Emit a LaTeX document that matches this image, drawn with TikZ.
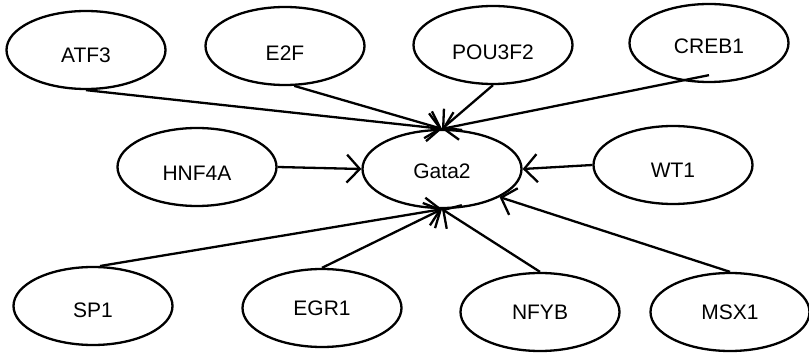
\documentclass[tikz,border=0pt]{standalone}
\usepackage{fontspec}
\setmainfont{Liberation Sans}
\usetikzlibrary{shapes.geometric,arrows.meta}
\newcommand\lowtext[2]{\raisebox{-#1pt}[\height][\depth]{#2}}
\begin{document}
\begin{tikzpicture}[x=1pt,y=-1pt,
  gene/.style={ellipse,draw=black,line width=2.3pt,minimum width=159pt,minimum height=78pt,inner sep=0pt,font=\fontsize{21}{24}\selectfont},
  reg/.style={line width=2.3pt,-{Straight Barb[length=13pt,width=28pt]}}]
\useasboundingbox (0,0) rectangle (809,355);
\node[gene] (atf3) at (86,50) {\lowtext{5}{ATF3}};
\node[gene] (e2f) at (285,46) {\lowtext{7}{E2F}};
\node[gene] (pou) at (493,45) {\lowtext{7}{POU3F2}};
\node[gene] (creb1) at (709,43) {\lowtext{3}{CREB1}};
\node[gene] (hnf4a) at (197,167) {\lowtext{6}{HNF4A}};
\node[gene] (gata2) at (442,169) {\lowtext{2}{Gata2}};
\node[gene] (wt1) at (673,165) {\lowtext{5}{WT1}};
\node[gene] (sp1) at (93,306) {\lowtext{4}{SP1}};
\node[gene] (egr1) at (322,308) {EGR1};
\node[gene] (nfyb) at (540,312) {NFYB};
\node[gene] (msx1) at (730,312) {MSX1};
\draw[reg] (atf3.south) -- (gata2.north);
\draw[reg] (e2f.-77) -- (gata2.north);
\draw[reg] (pou.south) -- (gata2.north);
\draw[reg] ([yshift=8pt]creb1.south) -- (gata2.north);
\draw[reg] (hnf4a.east) -- (gata2.west);
\draw[reg] (wt1.west) -- (gata2.east);
\draw[reg] (sp1.80) -- (gata2.south);
\draw[reg] (egr1.north) -- (gata2.south);
\draw[reg] (nfyb.north) -- (gata2.south);
\draw[reg] (msx1.north) -- (gata2.-26);
\end{tikzpicture}
\end{document}
